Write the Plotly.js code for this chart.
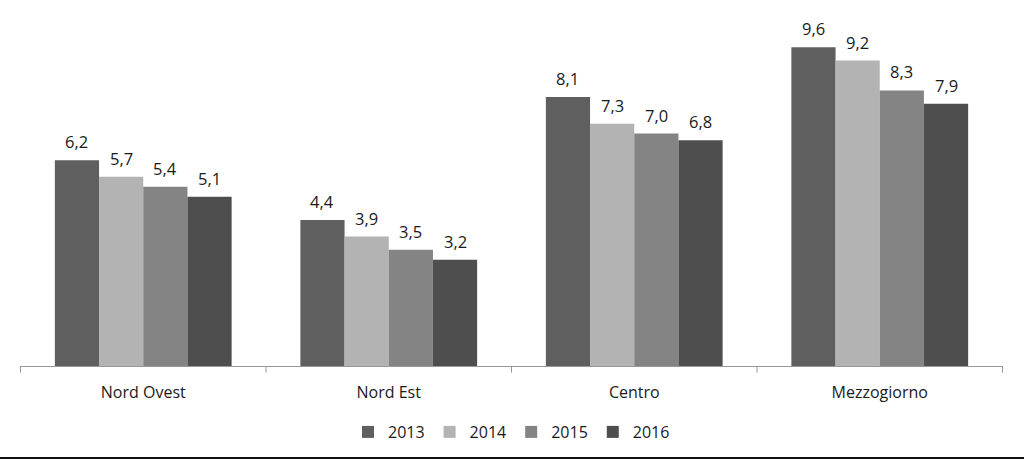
<!DOCTYPE html>
<html>
<head>
<meta charset="utf-8">
<script src="https://cdn.plot.ly/plotly-3.0.1.min.js"></script>
<style>
html,body{margin:0;padding:0;background:#fff;}
#chart{width:1024px;height:460px;position:relative;}
#bline{position:absolute;left:0;top:457px;width:1024px;height:2px;background:#111;}
</style>
</head>
<body>
<div id="chart"></div>
<div id="bline"></div>
<script>
const categories = ["Nord Ovest", "Nord Est", "Centro", "Mezzogiorno"];
const years = ["2013", "2014", "2015", "2016"];
const v2013 = [6.2, 4.4, 8.1, 9.6];
const v2014 = [5.7, 3.9, 7.3, 9.2];
const v2015 = [5.4, 3.5, 7.0, 8.3];
const v2016 = [5.1, 3.2, 6.8, 7.9];
const series = [v2013, v2014, v2015, v2016];
const colors = ["#5f5f5f", "#b3b3b3", "#848484", "#4e4e4e"];

const fmt = v => v.toFixed(1).replace(".", ",");
const font = "Open Sans, Liberation Sans, sans-serif";

const W = 1024, H = 460;
const margin = {l: 20, r: 21, t: 34, b: 94};
const bargap = 0.28;
const catW = (W - margin.l - margin.r) / categories.length;
const barW = catW * (1 - bargap) / series.length;

const traces = series.map((vals, i) => ({
  type: "bar",
  name: years[i],
  x: categories,
  y: vals,
  marker: {color: colors[i], line: {width: 0}},
  hoverinfo: "skip"
}));

const annotations = [];
series.forEach((vals, i) => {
  vals.forEach((v, j) => {
    annotations.push({
      x: categories[j], y: v, xref: "x", yref: "y",
      text: fmt(v), showarrow: false,
      xanchor: "center", yanchor: "bottom",
      xshift: (i - (series.length - 1) / 2) * barW,
      yshift: 5,
      font: {family: font, size: 16.5, color: "#1a1a1a"}
    });
  });
});

const layout = {
  width: W, height: H,
  margin: margin,
  paper_bgcolor: "#fff", plot_bgcolor: "#fff",
  barmode: "group",
  bargap: bargap, bargroupgap: 0,
  showlegend: true,
  legend: {
    orientation: "h", x: 0.5, xanchor: "center",
    yref: "container", y: (H - 432) / H, yanchor: "middle",
    font: {family: font, size: 16, color: "#1a1a1a"},
    itemwidth: 30, traceorder: "normal"
  },
  xaxis: {
    showline: true, linecolor: "#999999", linewidth: 1,
    ticks: "", showgrid: false,
    ticklabelstandoff: 12,
    tickfont: {family: font, size: 16, color: "#1a1a1a"},
    fixedrange: true
  },
  yaxis: {
    range: [0, 10], visible: false, showgrid: false, zeroline: false, fixedrange: true
  },
  annotations: annotations,
  shapes: [0, 1, 2, 3, 4].map(k => ({
    type: "line", xref: "x", yref: "paper",
    x0: k - 0.5, x1: k - 0.5, y0: 0, y1: -0.02,
    line: {color: "#999999", width: 1}
  }))
};

Plotly.newPlot("chart", traces, layout, {displayModeBar: false, staticPlot: true});
</script>
</body>
</html>
